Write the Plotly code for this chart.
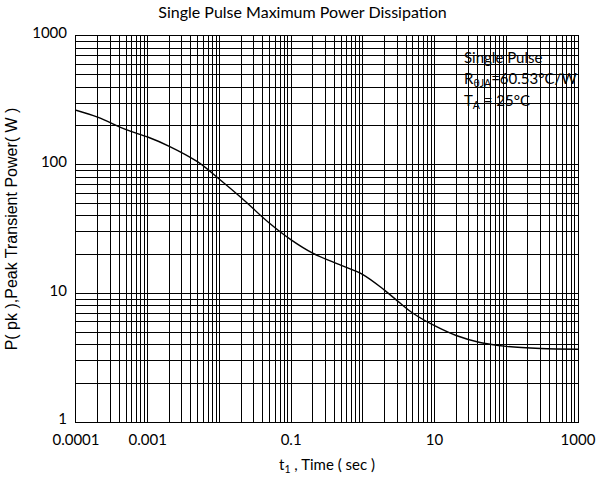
import plotly.graph_objects as go

# Data
time_s = [1e-4, 2e-4, 5e-4, 1e-3, 2e-3, 5e-3, 1e-2, 2e-2, 5e-2, 0.1, 0.2, 0.5,
          1, 2, 3.3, 5, 10, 20, 43, 100, 300, 1000]
peak_power_w = [265, 234, 187, 164, 139, 105, 77, 55.5, 35, 26, 20.5, 16.5,
                14, 10.6, 8.4, 7.0, 5.6, 4.7, 4.15, 3.87, 3.73, 3.68]

x_tick_vals = [1e-4, 1e-3, 1e-2, 1e-1, 1, 10, 100, 1000]
x_tick_text = ["0.0001", "0.001", "", "0.1", "", "10", "", "1000"]
y_tick_vals = [1, 10, 100, 1000]
y_tick_text = ["1", "10", "100", "1000"]

FONT = "Lato"

fig = go.Figure()
fig.add_trace(go.Scatter(x=time_s, y=peak_power_w, mode="lines",
                         line=dict(color="black", width=1.4, shape="spline", smoothing=1.0),
                         showlegend=False, hoverinfo="skip"))

axis_common = dict(
    type="log", showline=True, linecolor="black", linewidth=1, mirror=True,
    showgrid=True, gridcolor="black", gridwidth=1, ticks="", zeroline=False,
    automargin=False,
    tickfont=dict(family=FONT, size=15, color="black"),
)

fig.update_xaxes(**axis_common, range=[-4, 3], tickmode="array",
                 tickvals=x_tick_vals, ticktext=x_tick_text,
                 ticklabelstandoff=4,
                 minor=dict(dtick="D1", showgrid=True, gridcolor="black", gridwidth=1, ticks=""),
                 title=dict(text="t<sub>1</sub> , Time ( sec )",
                            font=dict(family=FONT, size=15, color="black"), standoff=12))
fig.update_yaxes(**axis_common, range=[0, 3], tickmode="array",
                 tickvals=y_tick_vals, ticktext=y_tick_text,
                 ticklabelstandoff=5, ticklabelshift=-3,
                 minor=dict(dtick="D1", showgrid=True, gridcolor="black", gridwidth=1, ticks=""),
                 title=dict(text="P( pk ),Peak Transient Power( W )",
                            font=dict(family="Liberation Sans", size=16, color="black"), standoff=10))

fig.update_layout(
    width=605, height=479,
    margin=dict(l=76, r=27, t=36, b=57),
    paper_bgcolor="white", plot_bgcolor="white",
    title=dict(text="Single Pulse Maximum Power Dissipation", x=0.5, xanchor="center",
               y=0.975, yanchor="middle",
               font=dict(family=FONT, size=16, color="black")),
)

ann_font = dict(family=FONT, size=15, color="black")
for text, ypix in [("Single Pulse", 57),
                   ("R<sub>θJA</sub>=60.53°C/W", 79),
                   ("T<sub>A</sub> = 25°C", 101)]:
    fig.add_annotation(text=text, xref="paper", yref="paper",
                       x=(462 - 76) / 502, y=1 - (ypix - 36) / 386,
                       xanchor="left", yanchor="middle", showarrow=False,
                       font=ann_font)

fig.write_html("out.html")
